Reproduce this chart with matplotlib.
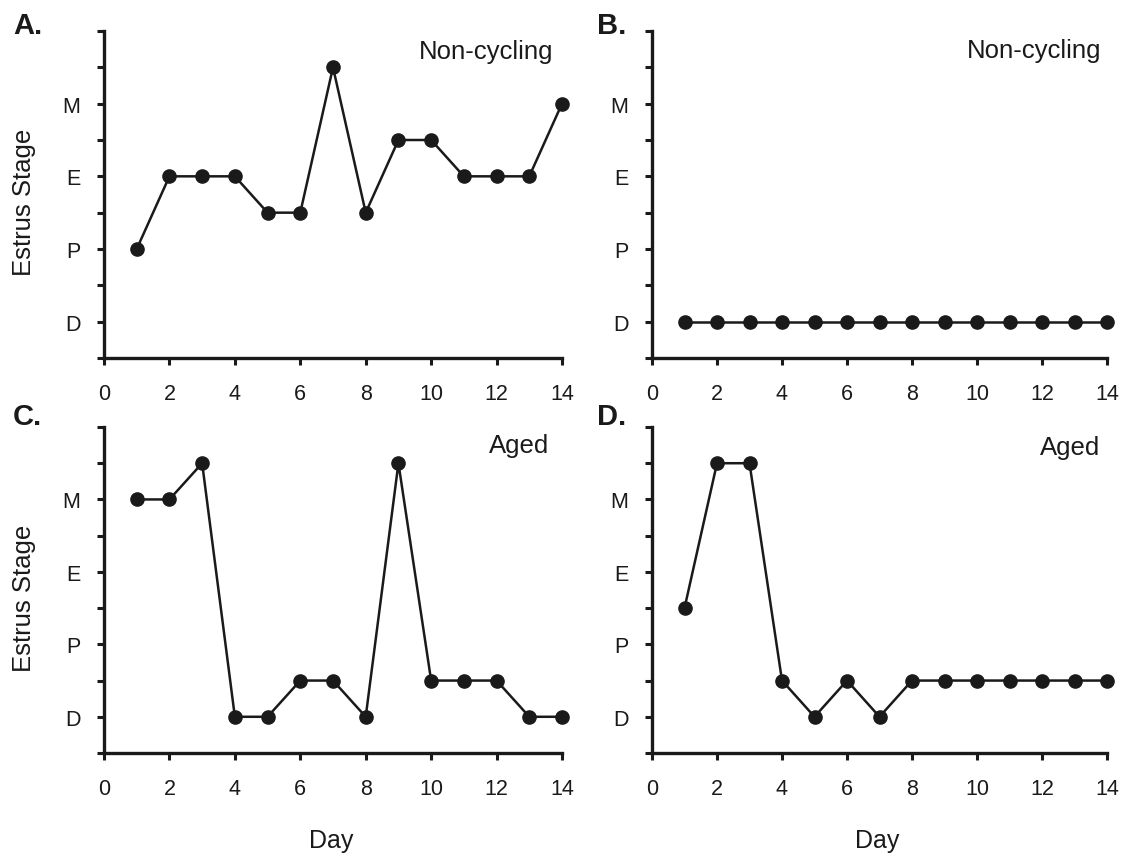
import matplotlib
matplotlib.use("Agg")
import matplotlib.pyplot as plt

plt.rcParams['font.family'] = ['Liberation Sans', 'DejaVu Sans']

days = list(range(1, 15))
stage_labels = ["D", "P", "E", "M"]
stage_ticks = [1, 2, 3, 4]

panel_a = [2, 3, 3, 3, 2.5, 2.5, 4.5, 2.5, 3.5, 3.5, 3, 3, 3, 4]
panel_b = [1, 1, 1, 1, 1, 1, 1, 1, 1, 1, 1, 1, 1, 1]
panel_c = [4, 4, 4.5, 1, 1, 1.5, 1.5, 1, 4.5, 1.5, 1.5, 1.5, 1, 1]
panel_d = [2.5, 4.5, 4.5, 1.5, 1, 1.5, 1, 1.5, 1.5, 1.5, 1.5, 1.5, 1.5, 1.5]

letters = ["A.", "B.", "C.", "D."]
titles = ["Non-cycling", "Non-cycling", "Aged", "Aged"]
series = [panel_a, panel_b, panel_c, panel_d]

W, H = 1125, 854
INK = "#1a1a1a"
fig = plt.figure(figsize=(W / 100, H / 100), dpi=100)

# axes boxes in pixels: left, top, right, bottom
boxes = [
    (104, 32, 562, 359),
    (652, 32, 1107, 359),
    (104, 428, 562, 754),
    (652, 428, 1107, 754),
]
# title centre x and baseline y (pixels)
title_pos = [(486, 59), (1034, 58), (519, 453), (1070, 455)]
letter_pos = [(13, 26), (597, 26), (13, 417), (597, 417)]

for i, (l, t, r, b) in enumerate(boxes):
    ax = fig.add_axes([l / W, 1 - b / H, (r - l) / W, (b - t) / H])
    ax.plot(days, series[i], color=INK, lw=1.8, marker="o",
            markersize=9.5, clip_on=False, zorder=3)
    ax.set_xlim(0, 14)
    ax.set_ylim(0.5, 5)
    ax.spines["top"].set_visible(False)
    ax.spines["right"].set_visible(False)
    for s in ("left", "bottom"):
        ax.spines[s].set_linewidth(2.4)
        ax.spines[s].set_color(INK)
    ax.set_xticks(range(0, 15, 2))
    ax.set_yticks([0.5, 1, 1.5, 2, 2.5, 3, 3.5, 4, 4.5, 5])
    ax.set_yticklabels(["", "D", "", "P", "", "E", "", "M", "", ""])
    ax.tick_params(axis="both", direction="out", length=5, width=2.2,
                   colors=INK, labelsize=15.5, labelcolor=INK)
    ax.tick_params(axis="x", pad=13)
    ax.tick_params(axis="y", pad=12)
    tx, ty = title_pos[i]
    fig.text(tx / W, 1 - ty / H, titles[i], ha="center", va="baseline",
             fontsize=18.5, color=INK)
    lx, ly = letter_pos[i]
    fig.text(lx / W, 1 - ly / H, letters[i], fontsize=21,
             fontweight="bold", ha="left", va="center", color=INK)
    if i % 2 == 0:
        fig.text(24 / W, 1 - (t + 170) / H, "Estrus Stage", rotation=90,
                 ha="center", va="center", fontsize=18.5, color=INK)
    if i >= 2:
        fig.text(((l + r) / 2 - 2) / W, 1 - 848 / H, "Day", ha="center",
                 va="baseline", fontsize=18, color=INK)

fig.savefig("out.png", dpi=100)
